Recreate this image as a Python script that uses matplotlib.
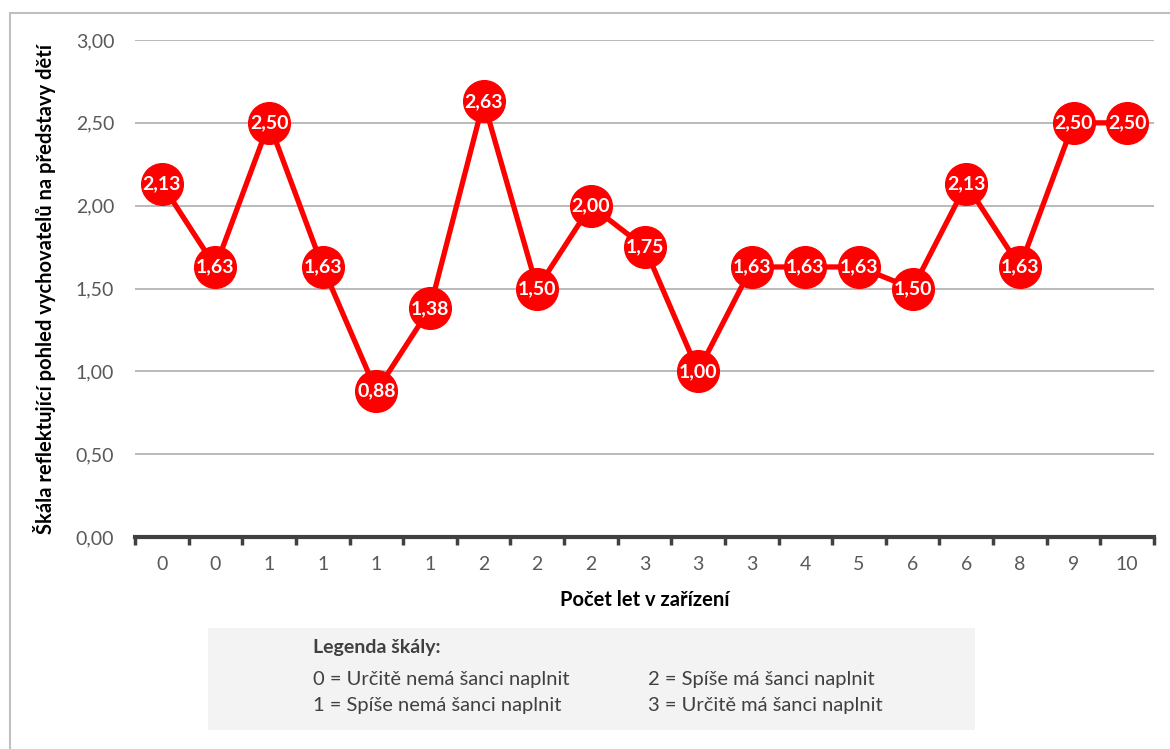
import matplotlib.pyplot as plt
from matplotlib.patches import Rectangle

plt.rcParams['font.family'] = ['Lato', 'DejaVu Sans']
plt.rcParams['hatch.color'] = '#e2e2e2'
plt.rcParams['hatch.linewidth'] = 0.6

# data
years = ['0', '0', '1', '1', '1', '1', '2', '2', '2', '3', '3', '3', '4', '5', '6', '6', '8', '9', '10']
scores = [2.13, 1.63, 2.50, 1.63, 0.88, 1.38, 2.63, 1.50, 2.00, 1.75,
          1.00, 1.63, 1.63, 1.63, 1.50, 2.13, 1.63, 2.50, 2.50]
yticks = [0, 0.5, 1.0, 1.5, 2.0, 2.5, 3.0]
legend_title = 'Legenda škály:'
legend_items = ['0 = Určitě nemá šanci naplnit', '1 = Spíše nemá šanci naplnit',
                '2 = Spíše má šanci naplnit', '3 = Určitě má šanci naplnit']

W, H = 1170, 749
fig = plt.figure(figsize=(W / 100, H / 100), dpi=100)

# outer frame
fig.patches.append(Rectangle((10 / W, -0.01), 1.2, 1 - 13 / H + 0.01, transform=fig.transFigure,
                             fill=False, edgecolor='#bfbfbf', linewidth=1.5))

ax = fig.add_axes([135 / W, 1 - 537 / H, (1154 - 135) / W, (537 - 40) / H])
x = list(range(len(scores)))
ax.plot(x, scores, '-o', color='#ff0000', linewidth=3.8, markersize=30, zorder=3)
for xi, v in zip(x, scores):
    ax.text(xi, v, f'{v:.2f}'.replace('.', ','), color='white', fontweight='bold',
            fontsize=14, ha='center', va='center', zorder=4)

ax.set_xlim(-0.5, len(scores) - 0.5)
ax.set_ylim(0, 3)
ax.set_yticks(yticks)
ax.set_yticklabels([f'{t:.2f}'.replace('.', ',') for t in yticks], color='#595959', fontsize=14)
ax.set_xticks(x)
ax.set_xticklabels(years, color='#595959', fontsize=14)
ax.tick_params(axis='x', length=0, pad=14)
ax.tick_params(axis='y', length=0, pad=15)
ax.set_xticks([i - 0.5 for i in range(len(scores) + 1)], minor=True)
ax.tick_params(axis='x', which='minor', length=6, width=2.5, color='#404040')
ax.grid(axis='y', color='#b4b4b4', linewidth=1.3)
ax.set_axisbelow(True)
for s in ['top', 'right', 'left']:
    ax.spines[s].set_visible(False)
ax.spines['bottom'].set_color('#404040')
ax.spines['bottom'].set_linewidth(3)

ax.set_xlabel('Počet let v zařízení', fontweight='bold', fontsize=14.5, va='center')
ax.xaxis.set_label_coords(0.5, (537 - 600) / 497)
ax.set_ylabel('Škála reflektující pohled vychovatelů na představy dětí', fontweight='bold',
              fontsize=14.5, va='center')
ax.yaxis.set_label_coords((45 - 135) / 1019, 0.5)

# scale legend box
fig.patches.append(Rectangle((208 / W, 1 - 730 / H), (975 - 208) / W, (730 - 628) / H,
                             transform=fig.transFigure, facecolor='#f3f3f3', edgecolor='none',
                             hatch='....'))
fig.text(313 / W, 1 - 648 / H, legend_title, fontweight='bold', fontsize=14, va='center', color='#404040')
fig.text(313 / W, 1 - 679 / H, legend_items[0], fontsize=14.5, va='center', color='#404040')
fig.text(313 / W, 1 - 705 / H, legend_items[1], fontsize=14.5, va='center', color='#404040')
fig.text(648 / W, 1 - 679 / H, legend_items[2], fontsize=14.5, va='center', color='#404040')
fig.text(648 / W, 1 - 705 / H, legend_items[3], fontsize=14.5, va='center', color='#404040')

fig.savefig('out.png', dpi=100)
